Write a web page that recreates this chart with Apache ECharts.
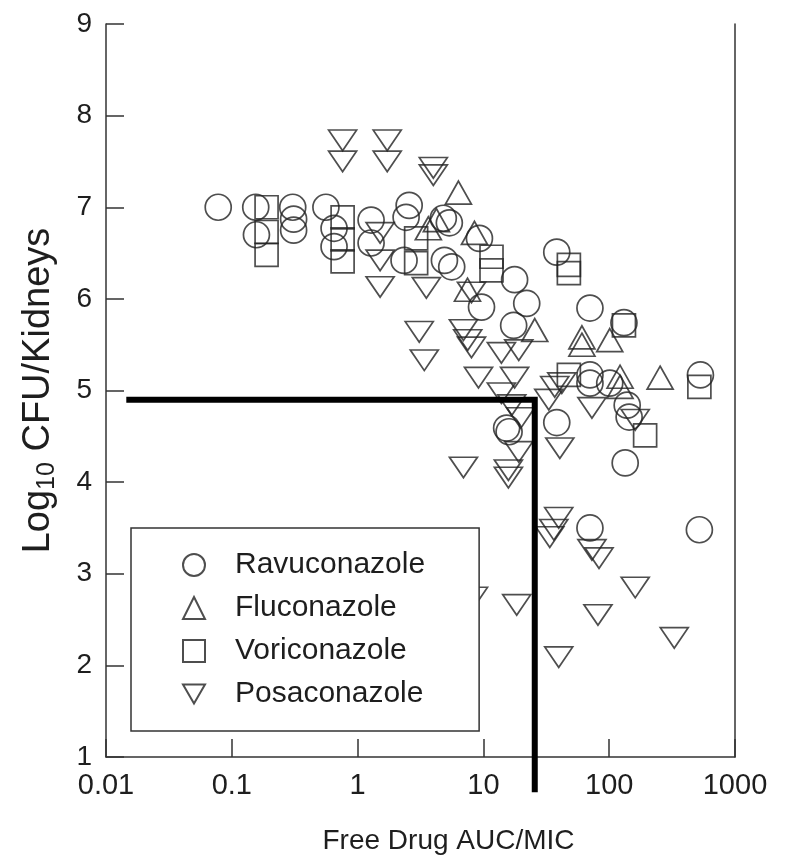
<!DOCTYPE html>
<html>
<head>
<meta charset="utf-8">
<title>Free Drug AUC/MIC vs Log10 CFU/Kidneys</title>
<script src="https://cdn.jsdelivr.net/npm/echarts@6/dist/echarts.min.js"></script>
<style>
  html, body { margin: 0; padding: 0; background: #fff; }
  #chart { width: 785px; height: 862px; }
</style>
</head>
<body>
<div id="chart"></div>
<script>
// Free drug AUC/MIC (x) and log10 CFU per kidneys (y), one array per drug
const ravuconazole = [
  [0.078, 7.0], [0.155, 7.0], [0.157, 6.70], [0.305, 7.0], [0.31, 6.87], [0.31, 6.75],
  [0.56, 7.0], [0.65, 6.77], [0.65, 6.57], [1.28, 6.86], [1.28, 6.61], [2.57, 7.02],
  [2.43, 6.89], [2.34, 6.42], [4.8, 6.88], [5.36, 6.83], [4.9, 6.42], [5.6, 6.35],
  [9.3, 6.66], [9.66, 5.91], [22.1, 5.95], [17.7, 6.21], [17.4, 5.71], [38.3, 6.51],
  [70.3, 5.90], [70.3, 5.17], [70.3, 5.08], [101, 5.08], [131, 5.74], [139, 4.84],
  [144, 4.71], [38.3, 4.65], [15.3, 4.59], [16.0, 4.55], [134, 4.21], [70.3, 3.50],
  [521, 3.48], [531, 5.17]
];
const fluconazole = [
  [6.33, 7.16], [4.23, 6.86], [3.65, 6.77], [8.49, 6.72], [7.47, 6.10], [25.6, 5.66],
  [60.7, 5.58], [60.7, 5.50], [101, 5.55], [122, 5.15], [122, 5.04], [254, 5.14]
];
const voriconazole = [
  [0.189, 7.0], [0.189, 6.73], [0.189, 6.48], [0.76, 6.89], [0.76, 6.65], [0.76, 6.41],
  [2.92, 6.66], [2.92, 6.39], [11.6, 6.46], [11.6, 6.31], [47.8, 6.37], [47.8, 6.28],
  [131, 5.71], [47.8, 5.17], [521, 5.04], [193, 4.51]
];
const posaconazole = [
  [0.76, 7.73], [0.76, 7.50], [1.72, 7.73], [1.72, 7.50], [1.51, 6.72], [1.51, 6.42],
  [1.51, 6.13], [4.0, 7.43], [4.0, 7.35], [3.52, 6.12], [8.04, 6.07], [3.09, 5.64],
  [3.39, 5.33], [6.94, 5.66], [7.5, 5.55], [8.04, 5.47], [9.14, 5.14], [13.9, 5.41],
  [19.1, 5.44], [17.7, 5.14], [13.9, 4.97], [36.9, 5.04], [42, 5.08], [33.1, 4.90],
  [16.8, 4.84], [19.8, 4.70], [72.9, 4.81], [161, 4.68], [40.5, 4.37], [19.1, 4.33],
  [6.94, 4.16], [15.8, 4.13], [15.8, 4.05], [39.7, 3.61], [36.3, 3.48], [33.7, 3.40],
  [72.9, 3.26], [83, 3.17], [161, 2.85], [8.34, 2.74], [18.4, 2.66], [81.4, 2.55],
  [329, 2.30], [39.7, 2.09]
];
// Breakpoint guide: CFU level and the AUC/MIC where it is reached
const breakpointPath = [[0.0145, 4.9], [25.6, 4.9], [25.6, 0.615]];

const seriesNames = ['Ravuconazole', 'Fluconazole', 'Voriconazole', 'Posaconazole'];
const xTickLabels = ['0.01', '0.1', '1', '10', '100', '1000'];
const yTickLabels = ['1', '2', '3', '4', '5', '6', '7', '8', '9'];

const FONT = '"Liberation Sans", Arial, Helvetica, sans-serif';
const INK = '#1e1e1e';
const AXIS = '#333';

const hollow = { color: 'rgba(0,0,0,0)', borderColor: '#222', borderWidth: 1.7 };
const downTriangle = 'path://M0,0 L28,0 L14,24 Z';

const chart = echarts.init(document.getElementById('chart'), null, { renderer: 'canvas' });

function scatter(name, data, symbol, size) {
  return {
    name: name,
    type: 'scatter',
    data: data,
    symbol: symbol,
    symbolSize: size,
    symbolKeepAspect: true,
    itemStyle: hollow,
    emphasis: { disabled: true },
    silent: true,
    z: 2
  };
}

chart.setOption({
  animation: false,
  backgroundColor: '#fff',
  textStyle: { fontFamily: FONT },
  grid: { left: 106, right: 50, top: 24, bottom: 105, containLabel: false },
  legend: {
    orient: 'vertical',
    left: 131,
    top: 528,
    data: seriesNames,
    selectedMode: false,
    backgroundColor: '#fff',
    borderColor: AXIS,
    borderWidth: 1.5,
    borderRadius: 0,
    padding: [22, 54, 22, 51],
    itemWidth: 22,
    itemHeight: 22,
    itemGap: 13,
    textStyle: { fontSize: 30, color: INK, fontFamily: FONT, lineHeight: 30, padding: [0, 0, 0, 25] },
    z: 10
  },
  xAxis: {
    type: 'log',
    logBase: 10,
    min: 0.01,
    max: 1000,
    name: 'Free Drug AUC/MIC',
    nameLocation: 'middle',
    nameGap: 70,
    nameTextStyle: { fontSize: 28, color: INK, fontFamily: FONT, padding: [0, 0, 0, 56] },
    axisLine: { show: true, onZero: false, lineStyle: { color: AXIS, width: 1.5 } },
    axisTick: { show: true, inside: true, length: 18, lineStyle: { color: AXIS, width: 1.5 } },
    axisLabel: {
      fontSize: 29, color: INK, fontFamily: FONT, margin: 14,
      formatter: function (v, i) { return xTickLabels[i]; }
    },
    splitLine: { show: false },
    minorTick: { show: false }
  },
  yAxis: [
    {
      type: 'value',
      min: 1,
      max: 9,
      interval: 1,
      name: '{t|Log}{s|10}{t| CFU/Kidneys}',
      nameLocation: 'middle',
      nameRotate: 90,
      nameGap: 46,
      nameTextStyle: {
        fontSize: 38, color: INK, fontFamily: FONT,
        rich: {
          t: { fontSize: 38, color: INK, fontFamily: FONT },
          s: { fontSize: 25, color: INK, fontFamily: FONT, padding: [18, 0, 0, 0] }
        }
      },
      axisLine: { show: true, onZero: false, lineStyle: { color: AXIS, width: 1.5 } },
      axisTick: { show: true, inside: true, length: 18, lineStyle: { color: AXIS, width: 1.5 } },
      axisLabel: {
        fontSize: 28, color: INK, fontFamily: FONT, margin: 14,
        formatter: function (v) { return yTickLabels[Math.round(v) - 1]; }
      },
      splitLine: { show: false }
    },
    {
      type: 'value',
      min: 1,
      max: 9,
      interval: 1,
      position: 'right',
      axisLine: { show: true, onZero: false, lineStyle: { color: AXIS, width: 1.5 } },
      axisTick: { show: false },
      axisLabel: { show: false },
      splitLine: { show: false }
    }
  ],
  series: [
    scatter(seriesNames[0], ravuconazole, 'circle', 26),
    scatter(seriesNames[1], fluconazole, 'triangle', [26, 23]),
    scatter(seriesNames[2], voriconazole, 'rect', 23),
    scatter(seriesNames[3], posaconazole, downTriangle, [28, 24]),
    {
      name: 'breakpoint',
      type: 'line',
      data: breakpointPath,
      symbol: 'none',
      clip: false,
      silent: true,
      lineStyle: { color: '#000', width: 6, cap: 'butt', join: 'miter' },
      z: 5
    }
  ]
});
</script>
</body>
</html>
